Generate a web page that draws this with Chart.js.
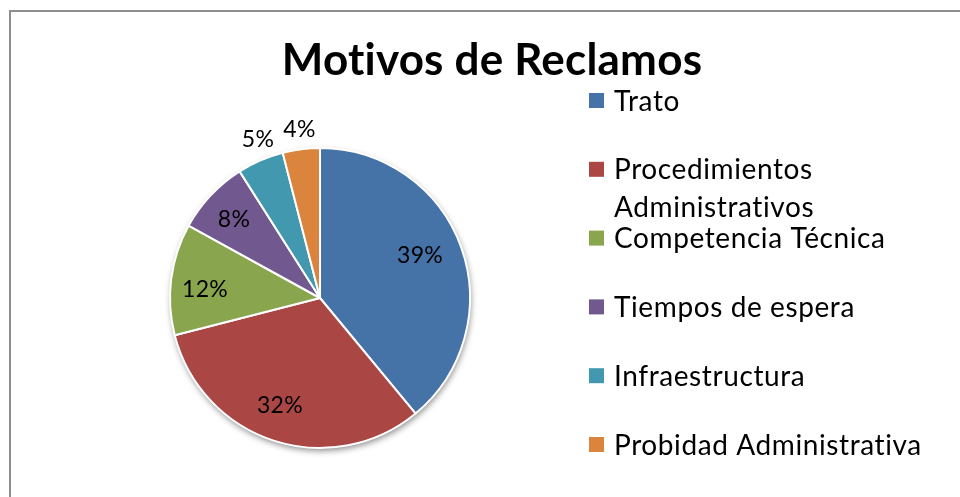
<!DOCTYPE html>
<html>
<head>
<meta charset="utf-8">
<script src="https://cdn.jsdelivr.net/npm/chart.js@4.4.1/dist/chart.umd.min.js"></script>
<style>
  html, body { margin: 0; padding: 0; background: #ffffff; }
  #wrap { position: relative; width: 960px; height: 497px; }
</style>
</head>
<body>
<div id="wrap"><canvas id="c" width="960" height="497"></canvas></div>
<script>
// ---- data ----
const chartTitle = 'Motivos de Reclamos';
const categories = ['Trato', 'Procedimientos Administrativos', 'Competencia Técnica', 'Tiempos de espera', 'Infraestructura', 'Probidad Administrativa'];
const percentValues = [39, 32, 12, 8, 5, 4];
const sliceColors = ['#4572A7', '#AA4643', '#89A54E', '#71588F', '#4198AF', '#DB843D'];

const FONT = 'Lato, "Open Sans", sans-serif';

// frame + title + legend + shadow + labels
const decorPlugin = {
  id: 'decor',
  beforeDraw(chart) {
    const ctx = chart.ctx;
    ctx.save();
    ctx.fillStyle = '#ffffff';
    ctx.fillRect(0, 0, chart.width, chart.height);
    ctx.strokeStyle = '#8e8e8e';
    ctx.lineWidth = 2;
    ctx.beginPath();
    ctx.moveTo(10, chart.height + 5);
    ctx.lineTo(10, 11);
    ctx.lineTo(chart.width + 5, 11);
    ctx.stroke();
    // title
    ctx.fillStyle = '#000000';
    ctx.font = 'bold 44px ' + FONT;
    ctx.textAlign = 'center';
    ctx.textBaseline = 'alphabetic';
    if ('letterSpacing' in ctx) ctx.letterSpacing = '0.2px';
    ctx.fillText(chartTitle, 492, 75);
    // legend
    const o = chart.options.plugins.decor;
    ctx.font = o.legendFontSize + 'px ' + FONT;
    if ('letterSpacing' in ctx) ctx.letterSpacing = '0.6px';
    ctx.textAlign = 'left';
    chart.data.labels.forEach((lab, i) => {
      const cy = o.legendTop + i * o.legendStep;
      ctx.fillStyle = chart.data.datasets[0].backgroundColor[i];
      ctx.fillRect(o.legendX, cy - 7.5, 15, 15);
      ctx.fillStyle = '#000000';
      // wrap long labels
      let lines = [lab];
      if (ctx.measureText(lab).width > o.legendMaxWidth) {
        const words = lab.split(' ');
        lines = [];
        let cur = '';
        words.forEach(w => {
          const t = cur ? cur + ' ' + w : w;
          if (ctx.measureText(t).width > o.legendMaxWidth && cur) { lines.push(cur); cur = w; }
          else cur = t;
        });
        if (cur) lines.push(cur);
      }
      lines.forEach((ln, k) => {
        ctx.fillText(ln, o.legendX + 25, cy + 10 + k * 38);
      });
    });
    ctx.restore();
  },
  beforeDatasetsDraw(chart) {
    const arc = chart.getDatasetMeta(0).data[0];
    if (!arc) return;
    const ctx = chart.ctx;
    ctx.save();
    ctx.shadowColor = 'rgba(0,0,0,0.45)';
    ctx.shadowBlur = 6;
    ctx.shadowOffsetX = 1;
    ctx.shadowOffsetY = 3;
    ctx.fillStyle = '#ffffff';
    ctx.beginPath();
    ctx.arc(arc.x, arc.y, arc.outerRadius, 0, Math.PI * 2);
    ctx.fill();
    ctx.restore();
  },
  afterDatasetsDraw(chart) {
    const o = chart.options.plugins.decor;
    const meta = chart.getDatasetMeta(0);
    const ctx = chart.ctx;
    const ds = chart.data.datasets[0];
    const total = ds.data.reduce((a, b) => a + b, 0);
    ctx.save();
    ctx.fillStyle = '#000000';
    ctx.font = '23px ' + FONT;
    if ('letterSpacing' in ctx) ctx.letterSpacing = '0.3px';
    ctx.textAlign = 'center';
    ctx.textBaseline = 'middle';
    meta.data.forEach((arc, i) => {
      const mid = (arc.startAngle + arc.endAngle) / 2 + o.labelAngleShift[i] * Math.PI / 180;
      const r = arc.outerRadius * o.labelRadius[i];
      const x = arc.x + Math.cos(mid) * r;
      const y = arc.y + Math.sin(mid) * r;
      const pct = Math.round(ds.data[i] / total * 100) + '%';
      ctx.fillText(pct, x, y + 1);
    });
    ctx.restore();
  }
};

new Chart(document.getElementById('c'), {
  type: 'pie',
  data: {
    labels: categories,
    datasets: [{
      data: percentValues,
      backgroundColor: sliceColors,
      borderColor: '#ffffff',
      borderWidth: 2
    }]
  },
  options: {
    responsive: false,
    animation: false,
    events: [],
    layout: { padding: { left: 169, right: 489, top: 147, bottom: 48 } },
    plugins: {
      legend: { display: false },
      title: { display: false },
      tooltip: { enabled: false },
      decor: {
        legendX: 589,
        legendTop: 100.5,
        legendStep: 68.8,
        legendFontSize: 28,
        legendMaxWidth: 335,
        labelRadius: [0.726, 0.759, 0.769, 0.781, 1.138, 1.138],
        labelAngleShift: [-3.5, 2.6, -2.5, -0.45, 2.1, 0.3]
      }
    }
  },
  plugins: [decorPlugin]
});
</script>
</body>
</html>
